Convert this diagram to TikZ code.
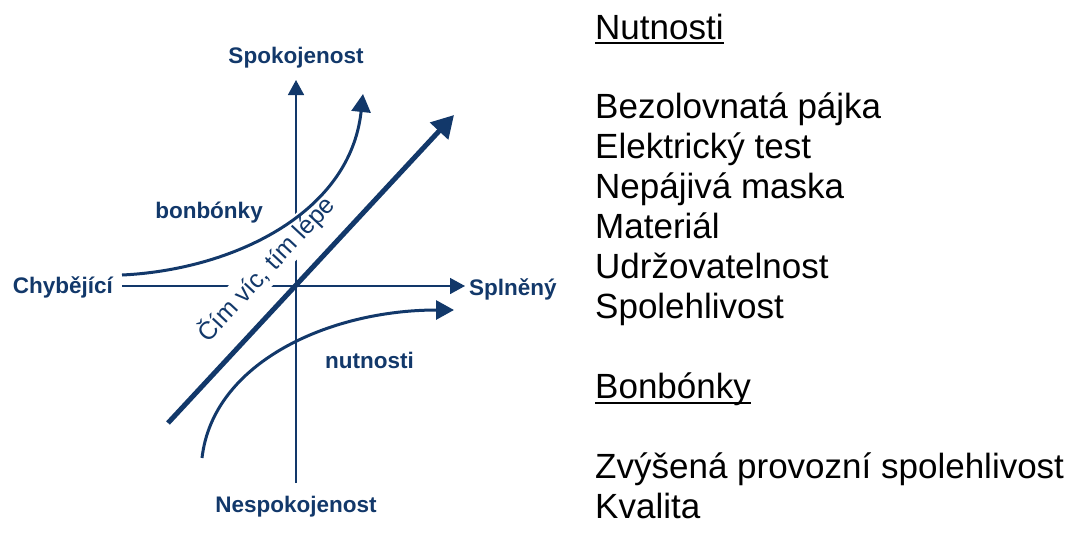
\documentclass[tikz,border=0pt]{standalone}
\usepackage{fontspec}
\setmainfont{Liberation Sans}
\usetikzlibrary{arrows.meta}
\definecolor{navy}{HTML}{12386A}
\begin{document}
\begin{tikzpicture}[x=1pt,y=-1pt,
  axis/.style={draw=navy,line width=1.6pt,-{Triangle[length=15pt,width=16pt]}},
  curve/.style={draw=navy,line width=3pt,-{Triangle[length=18pt,width=19pt]}},
  trend/.style={draw=navy,line width=5pt,-{Triangle[length=22pt,width=24pt]}},
  lbl/.style={text=navy,font=\fontsize{22.5}{27}\selectfont\bfseries,inner sep=0pt},
  motto/.style={text=navy,fill=white,font=\fontsize{25}{29}\selectfont,inner sep=2.5pt},
  item/.style={anchor=base west,inner sep=0pt,font=\fontsize{35}{40}\selectfont},
  uline/.style={draw=black,line width=2pt},
]
\useasboundingbox (0,0) rectangle (1075,533);

% axis end points
\coordinate (xl) at (122,286);
\coordinate (xr) at (465,286);
\coordinate (yb) at (296,483);
\coordinate (yt) at (296,80);

% axis labels
\node[lbl,anchor=base east] (miss) at (113,293) {Chybějící};
\node[lbl,anchor=base west] (full) at (469,295) {Splněný};
\node[lbl,anchor=base] (sat) at (296,63) {Spokojenost};
\node[lbl,anchor=base] (dis) at (296,512) {Nespokojenost};
\node[lbl,anchor=base] (bon) at (209,218) {bonbónky};
\node[lbl,anchor=base west] (nut) at (325,368) {nutnosti};

% axes
\draw[axis] (xl) -- (xr);
\draw[axis] (yb) -- (yt);

% label along the diagonal, masking the axes behind it
\node[motto,rotate=47] (more) at (266,269) {Čím víc, tím lépe};

% curves
\coordinate (bs) at (122,275);
\coordinate (be) at (363,94);
\draw[curve] (bs) .. controls (230,270) and (350,215) .. (be);

\coordinate (ns) at (202,458);
\coordinate (ne) at (454,310);
\draw[curve] (ns) .. controls (213,362) and (330,310) .. (ne);

% linear trend
\coordinate (ds) at (168,423);
\coordinate (de) at (454,115);
\draw[trend] (ds) -- (de);

% right-hand list
\node[item] (h1) at (595,39) {Nutnosti};
\draw[uline] ([yshift=-4pt]h1.base west) -- ([yshift=-4pt]h1.base east);
\node[item] (a1) at (595,118) {Bezolovnatá pájka};
\node[item] (a2) at (595,158) {Elektrický test};
\node[item] (a3) at (595,198) {Nepájivá maska};
\node[item] (a4) at (595,238) {Materiál};
\node[item] (a5) at (595,278) {Udržovatelnost};
\node[item] (a6) at (595,318) {Spolehlivost};
\node[item] (h2) at (595,398) {Bonbónky};
\draw[uline] ([yshift=-5pt]h2.base west) -- ([yshift=-5pt]h2.base east);
\node[item] (b1) at (595,478) {Zvýšená provozní spolehlivost};
\node[item] (b2) at (595,518) {Kvalita};
\end{tikzpicture}
\end{document}
